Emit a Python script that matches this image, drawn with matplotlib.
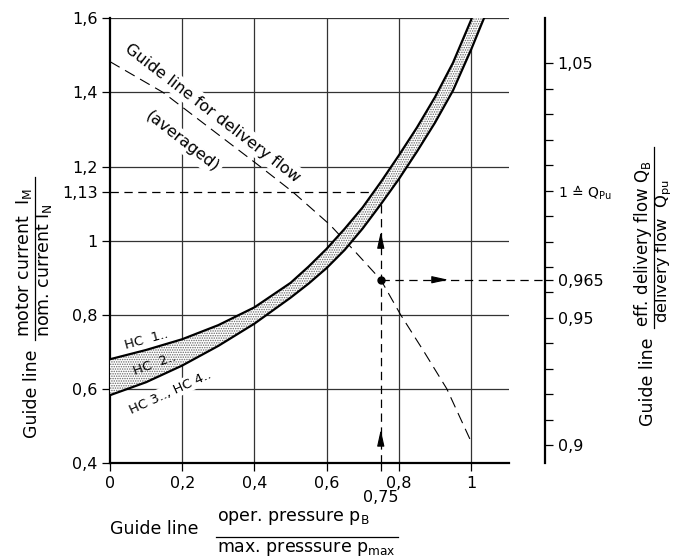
import matplotlib
matplotlib.use("Agg")
import matplotlib.pyplot as plt
from matplotlib.lines import Line2D

W, H = 673, 557  # output size in pixels

# band of motor current over the pressure ratio
p_ratio = [0, 0.1, 0.2, 0.3, 0.4, 0.5, 0.55, 0.6, 0.65, 0.7, 0.75, 0.8, 0.85, 0.9, 0.95, 1.0, 1.04]
hc1_current = [0.680, 0.705, 0.734, 0.772, 0.820, 0.886, 0.930, 0.978, 1.032, 1.090, 1.158,
               1.230, 1.305, 1.387, 1.480, 1.595, 1.70]
hc34_current = [0.583, 0.618, 0.663, 0.716, 0.776, 0.846, 0.884, 0.926, 0.975, 1.033, 1.098,
                1.166, 1.240, 1.318, 1.405, 1.515, 1.61]

# guide line for delivery flow (averaged), read on the left scale
guide_p = [0, 0.147, 0.416, 0.508, 0.609, 0.683, 0.75, 0.805, 0.87, 0.933, 1.0]
guide_current = [1.483, 1.4, 1.2, 1.13, 1.043, 0.966, 0.8945, 0.80, 0.70, 0.60, 0.458]

# worked example
op_p = 0.75
op_current = 1.13
op_flow = 0.965
op_flow_left = 0.8945   # same height on the left scale
flow_one_left = 1.135   # left scale height of 1 = Q_Pu

left_ticks = [0.4, 0.6, 0.8, 1.0, 1.13, 1.2, 1.4, 1.6]
left_labels = ["0,4", "0,6", "0,8", "1", "1,13", "1,2", "1,4", "1,6"]
bottom_ticks = [0, 0.2, 0.4, 0.6, 0.75, 0.8, 1.0]
bottom_labels = ["0", "0,2", "0,4", "0,6", "\n0,75", "0,8", "1"]
flow_ticks = [0.9, 0.95, 0.965, 1.0, 1.05]
flow_labels = ["0,9", "0,95", "0,965", "1 \u2259 Q$_\\mathrm{Pu}$", "1,05"]
flow_minor = [0.91, 0.92, 0.93, 0.94, 0.96, 0.97, 0.98, 0.99, 1.01, 1.02, 1.03, 1.04]
grid_x = [0.2, 0.4, 0.6, 0.8, 1.0]
grid_y = [0.6, 0.8, 1.0, 1.2, 1.4, 1.6]

plt.rcParams["lines.scale_dashes"] = False
plt.rcParams["hatch.linewidth"] = 0.7

fig = plt.figure(figsize=(W / 100, H / 100), dpi=100)
ax = fig.add_axes([110 / W, 1 - 463 / H, 399.3 / W, 444.7 / H])
rax = fig.add_axes([545 / W, 1 - 463 / H, 0.00001, 444.7 / H])

ax.set_xlim(0, 1.106)
ax.set_ylim(0.4, 1.6)
for s in ["top", "right"]:
    ax.spines[s].set_visible(False)
for s in ["left", "bottom"]:
    ax.spines[s].set_linewidth(1.6)

for gx in grid_x:
    ax.axvline(gx, color="#333333", lw=0.9, zorder=1)
for gy in grid_y:
    ax.axhline(gy, color="#333333", lw=0.9, zorder=1)

ax.set_yticks(left_ticks)
ax.set_yticklabels(left_labels)
ax.set_xticks(bottom_ticks)
ax.set_xticklabels(bottom_labels, linespacing=1.0)
ax.tick_params(direction="out", length=6, width=0.9, labelsize=11.5, pad=3)

# guide line, under the band
ax.plot(guide_p, guide_current, color="black", lw=0.8, ls=(0, (8, 4.5)), zorder=2)

# HC band
ax.fill_between(p_ratio, hc34_current, hc1_current, facecolor="white",
                edgecolor="#666666", hatch=".......", linewidth=0, zorder=3)
ax.plot(p_ratio, hc1_current, color="black", lw=1.6, zorder=4)
ax.plot(p_ratio, hc34_current, color="black", lw=1.6, zorder=4)

# dashed reading lines
dash = (0, (6, 4))
ax.plot([0, op_p], [op_current, op_current], color="black", lw=0.9, ls=dash, zorder=2)
ax.plot([op_p, op_p], [0.4, op_current], color="black", lw=0.9, ls=dash, zorder=2)
x_end = ax.transData.inverted().transform(rax.transAxes.transform((0, 0)))[0]
ax.plot([op_p, x_end], [op_flow_left, op_flow_left], color="black", lw=0.9, ls=dash,
        zorder=2, clip_on=False)
ax.plot([op_p], [op_flow_left], "o", color="black", ms=5, zorder=6)

head = dict(arrowstyle="-|>,head_length=1.0,head_width=0.22", color="black", lw=0.8,
            shrinkA=0, shrinkB=0, mutation_scale=10)
ax.annotate("", xy=(op_p, 1.024), xytext=(op_p, 0.99), arrowprops=head, zorder=6)
ax.annotate("", xy=(op_p, 0.49), xytext=(op_p, 0.456), arrowprops=head, zorder=6)
ax.annotate("", xy=(0.937, op_flow_left), xytext=(0.903, op_flow_left), arrowprops=head,
            zorder=6)

wbox = dict(facecolor="white", edgecolor="none", pad=2)
ax.text(0.285, 1.345, "Guide line for delivery flow", rotation=-37.6, rotation_mode="anchor",
        ha="center", va="center", fontsize=11.5, bbox=wbox, zorder=5)
ax.text(0.201, 1.267, "(averaged)", rotation=-38, rotation_mode="anchor",
        ha="center", va="center", fontsize=11.5, bbox=wbox, zorder=5)
ax.text(0.0997, 0.732, "HC  1..", rotation=15.5, rotation_mode="anchor",
        ha="center", va="center", fontsize=9.5, zorder=5)
ax.text(0.125, 0.668, "HC  2..", rotation=20, rotation_mode="anchor",
        ha="center", va="center", fontsize=9.5, zorder=5)
ax.text(0.166, 0.591, "HC 3.., HC 4..", rotation=24.5, rotation_mode="anchor",
        ha="center", va="center", fontsize=9.5, bbox=dict(facecolor="white", edgecolor="none", pad=1),
        zorder=5)

# right scale: delivery flow
k = (1.0 - op_flow) / (flow_one_left - op_flow_left)
rax.set_ylim(1 + (0.4 - flow_one_left) * k, 1 + (1.6 - flow_one_left) * k)
rax.set_xticks([])
for s in ["top", "bottom", "left"]:
    rax.spines[s].set_visible(False)
rax.spines["right"].set_linewidth(1.6)
rax.yaxis.set_ticks_position("right")
rax.set_yticks(flow_ticks)
rax.set_yticklabels(flow_labels)
rax.set_yticks(flow_minor, minor=True)
rax.tick_params(axis="y", which="both", direction="out", length=6, width=0.9,
                labelsize=11.5, pad=3)
rax.get_yticklabels()[3].set_fontsize(10)


def ftext(x, y, s, size=12.5, **kw):
    fig.text(x / W, 1 - y / H, s, fontsize=size, rotation_mode="anchor", **kw)


def fbar(x0, y0, x1, y1):
    fig.add_artist(Line2D([x0 / W, x1 / W], [1 - y0 / H, 1 - y1 / H], color="black",
                          lw=0.9, transform=fig.transFigure))


# left label
ftext(37, 394, "Guide line", rotation=90, ha="center", va="baseline")
fbar(34.5, 177, 34.5, 340)
ftext(29, 337, "motor current  I$_\\mathrm{M}$", rotation=90, ha="left", va="baseline")
ftext(49.5, 337, "nom. current I$_\\mathrm{N}$", rotation=90, ha="left", va="baseline")

# right label
ftext(653, 382, "Guide line", rotation=90, ha="center", va="baseline")
fbar(654, 147, 654, 328)
ftext(648, 327, "eff. delivery flow Q$_\\mathrm{B}$", size=12, rotation=90,
      ha="left", va="baseline")
ftext(667, 323, "delivery flow  Q$_\\mathrm{pu}$", size=11.8, rotation=90,
      ha="left", va="baseline")

# bottom label
ftext(110, 534, "Guide line", ha="left", va="baseline")
fbar(216, 537, 398, 537)
ftext(216.7, 521, "oper. pressure p$_\\mathrm{B}$", ha="left", va="baseline")
ftext(216.7, 552, "max. presssure p$_\\mathrm{max}$", ha="left", va="baseline")

fig.savefig("out.png", dpi=100)
